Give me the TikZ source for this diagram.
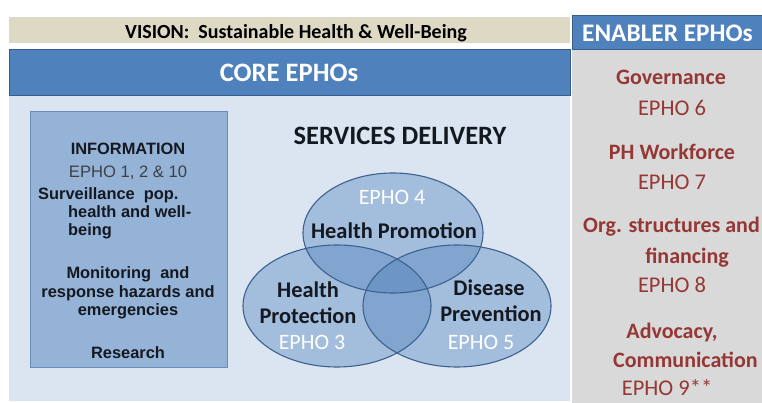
\documentclass[tikz,border=0pt]{standalone}
\usepackage{fontspec}
\setmainfont{Carlito}
\newfontfamily\arialf{Liberation Sans}
\definecolor{visionc}{RGB}{221,217,196}
\definecolor{coreblue}{RGB}{79,129,189}
\definecolor{coreborder}{RGB}{56,93,138}
\definecolor{lightbg}{RGB}{219,229,241}
\definecolor{grayc}{RGB}{217,217,217}
\definecolor{infofill}{RGB}{149,179,215}
\definecolor{infoborder}{RGB}{105,140,185}
\definecolor{vennborder}{RGB}{60,97,142}
\definecolor{enred}{RGB}{149,55,53}
\definecolor{darktext}{RGB}{20,24,32}
\definecolor{graytext}{RGB}{60,64,70}
\tikzset{
  txt/.style={inner sep=0pt, anchor=base},
  infob/.style={txt, font=\arialf\bfseries\fontsize{16.4}{19}\selectfont, text=darktext},
  infor/.style={txt, font=\arialf\fontsize{16.6}{19}\selectfont, text=graytext},
  vennb/.style={txt, font=\bfseries\fontsize{22.4}{26}\selectfont, text=darktext},
  vennw/.style={txt, font=\fontsize{22}{26}\selectfont, text=white},
  enb/.style={txt, font=\bfseries\fontsize{22}{26}\selectfont, text=enred},
  enr/.style={txt, font=\fontsize{22.5}{26}\selectfont, text=enred},
  venn/.style={fill=coreblue, fill opacity=0.4},
  vennline/.style={draw=vennborder, line width=1.1pt}
}
\begin{document}
\begin{tikzpicture}[x=1pt,y=-1pt]
\useasboundingbox (0,0) rectangle (762,403);
\fill[white] (0,0) rectangle (762,403);
% left backgrounds
\fill[lightbg] (9,96) rectangle (570,401);
\fill[visionc] (9,17) rectangle (570,43);
\draw[draw=coreborder, line width=1pt, fill=coreblue] (9,50) rectangle (570,96);
% right panel
\fill[grayc] (572,50) rectangle (762,403);
\draw[draw=coreborder, line width=1pt, fill=coreblue] (572,16) rectangle (766,50);
% headers
\node[txt, font=\bfseries\fontsize{20}{24}\selectfont, text=black] (vision) at (296,39) {VISION:\ \ Sustainable Health \& Well-Being};
\node[txt, font=\bfseries\fontsize{26.6}{30}\selectfont, text=white] (core) at (289,82) {CORE EPHOs};
\node[txt, anchor=base west, font=\bfseries\fontsize{25.3}{30}\selectfont, text=white] (enabler) at (582,42) {ENABLER EPHOs};
% information box
\draw[fill=infofill, draw=infoborder, line width=0.8pt] (30,111) rectangle (227,367);
\node[infob] (info) at (128,155) {INFORMATION};
\node[infor] (epho1) at (128,178) {EPHO 1, 2 \& 10};
\node[infob, anchor=base west] (surv1) at (38,200) {Surveillance\ \ pop.};
\node[infob, anchor=base west] (surv2) at (68,218) {health and well-};
\node[infob, anchor=base west] (surv3) at (68,236) {being};
\node[infob] (mon1) at (128,278) {Monitoring\ \ and};
\node[infob] (mon2) at (128,297) {response hazards and};
\node[infob] (mon3) at (128,315) {emergencies};
\node[infob] (research) at (128,358) {Research};
% services delivery
\node[txt, font=\bfseries\fontsize{26.5}{30}\selectfont, text=darktext] (services) at (400,145) {SERVICES DELIVERY};
\fill[venn] (393,233) ellipse [x radius=90, y radius=60];
\fill[venn] (337,306) ellipse [x radius=94, y radius=61];
\fill[venn] (457,306) ellipse [x radius=94, y radius=61];
\draw[vennline] (393,233) ellipse [x radius=90, y radius=60];
\draw[vennline] (337,306) ellipse [x radius=94, y radius=61];
\draw[vennline] (457,306) ellipse [x radius=94, y radius=61];
\node[vennw] (e4) at (392,205) {EPHO 4};
\node[vennb] (hp) at (394,238) {Health Promotion};
\node[vennb] (hpr1) at (308,297) {Health};
\node[vennb] (hpr2) at (308,323) {Protection};
\node[vennw] (e3) at (312,349) {EPHO 3};
\node[vennb] (dp1) at (489,295) {Disease};
\node[vennb] (dp2) at (491,321) {Prevention};
\node[vennw] (e5) at (481,349) {EPHO 5};
% enablers
\node[enb] (gov) at (671,85) {Governance};
\node[enr] (e6) at (672,116) {EPHO 6};
\node[enb] (phw) at (672,160) {PH Workforce};
\node[enr] (e7) at (672,190) {EPHO 7};
\node[enb, anchor=base west] (org1) at (583,233) {Org. structures and};
\node[enb] (org2) at (687,263) {financing};
\node[enr] (e8) at (672,292) {EPHO 8};
\node[enb] (adv1) at (672,338) {Advocacy,};
\node[enb, anchor=base west] (adv2) at (613,367) {Communication};
\node[enr] (e9) at (667,395) {EPHO 9**};
\end{tikzpicture}
\end{document}
